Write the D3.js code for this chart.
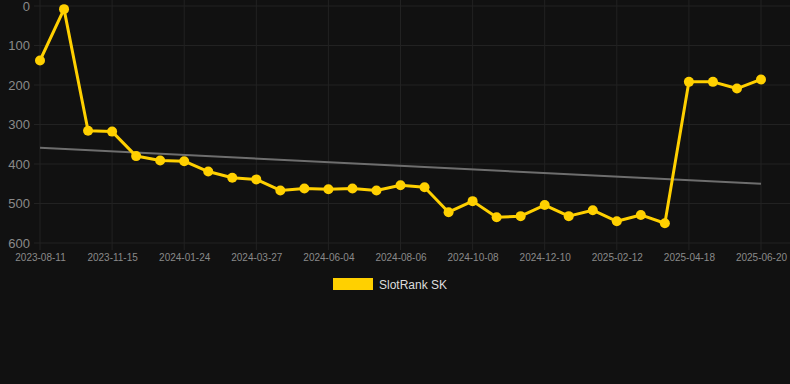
<!DOCTYPE html>
<html>
<head>
<meta charset="utf-8">
<script src="https://cdn.jsdelivr.net/npm/d3@7"></script>
<style>
html,body{margin:0;padding:0;background:#111111;}
svg{display:block;}
</style>
</head>
<body>
<svg id="chart" width="790" height="384"></svg>
<script>
const dates = ["2023-08-11","2023-09-12","2023-10-14","2023-11-15","2023-12-08","2023-12-31","2024-01-24","2024-02-14","2024-03-06","2024-03-27","2024-04-22","2024-05-13","2024-06-04","2024-06-25","2024-07-16","2024-08-06","2024-08-27","2024-09-17","2024-10-08","2024-10-29","2024-11-19","2024-12-10","2024-12-31","2025-01-22","2025-02-12","2025-03-06","2025-03-27","2025-04-18","2025-05-09","2025-05-30","2025-06-20"];
const rankValues = [138,8,316,318,380,391,393,419,435,439,467,462,464,462,467,454,459,522,494,535,532,504,532,517,545,529,550,192,192,209,186];
const trendValues = [359,450];
const yTicks = [0,100,200,300,400,500,600];
const seriesName = "SlotRank SK";

const svg = d3.select("#chart");
const plotLeft = 40, plotRight = 761, plotTop = 6, plotBottom = 243;

const x = d3.scalePoint().domain(dates).range([plotLeft, plotRight]);
const y = d3.scaleLinear().domain([0,600]).range([plotTop, plotBottom]);

// grid
const grid = svg.append("g");
grid.selectAll("line.h").data(yTicks).join("line")
  .attr("x1", 34).attr("x2", 790)
  .attr("y1", d => y(d)).attr("y2", d => y(d))
  .attr("stroke", "#222222").attr("stroke-width", 1);
grid.selectAll("line.v").data(dates).join("line")
  .attr("x1", d => x(d)).attr("x2", d => x(d))
  .attr("y1", 0).attr("y2", plotBottom + 7)
  .attr("stroke", (d,i) => i % 3 === 0 ? "#222222" : "none").attr("stroke-width", 1);

// y axis
const yAxis = d3.axisLeft(y).tickValues(yTicks).tickSize(0).tickPadding(0);
const yg = svg.append("g").attr("transform", `translate(30,0)`).call(yAxis);
yg.select(".domain").remove();
yg.selectAll("text").attr("fill", "#8a8a8a").attr("font-family", "Arial, 'Liberation Sans', sans-serif").attr("font-size", 13);

// x axis
const xAxis = d3.axisBottom(x).tickValues(dates.filter((d,i) => i % 3 === 0)).tickSize(0).tickPadding(0);
const xg = svg.append("g").attr("transform", `translate(0,${plotBottom + 11})`).call(xAxis);
xg.select(".domain").remove();
xg.selectAll("text").attr("fill", "#8a8a8a").attr("font-family", "Arial, 'Liberation Sans', sans-serif").attr("font-size", 10);

// trend line
svg.append("line")
  .attr("x1", x(dates[0])).attr("x2", x(dates[dates.length-1]))
  .attr("y1", y(trendValues[0])).attr("y2", y(trendValues[1]))
  .attr("stroke", "#6e6e6e").attr("stroke-width", 2);

// series line
const line = d3.line().x((d,i) => x(dates[i])).y(d => y(d));
svg.append("path").datum(rankValues)
  .attr("d", line).attr("fill", "none")
  .attr("stroke", "#FFD000").attr("stroke-width", 3).attr("stroke-linejoin", "round");

svg.selectAll("circle.pt").data(rankValues).join("circle")
  .attr("cx", (d,i) => x(dates[i])).attr("cy", d => y(d))
  .attr("r", 5).attr("fill", "#FFD000");

// legend
const lg = svg.append("g");
lg.append("rect").attr("x", 333).attr("y", 278).attr("width", 40).attr("height", 12).attr("fill", "#FFD000");
lg.append("text").attr("x", 379).attr("y", 288.5).text(seriesName)
  .attr("fill", "#dddddd").attr("font-family", "Arial, 'Liberation Sans', sans-serif").attr("font-size", 12);
</script>
</body>
</html>
